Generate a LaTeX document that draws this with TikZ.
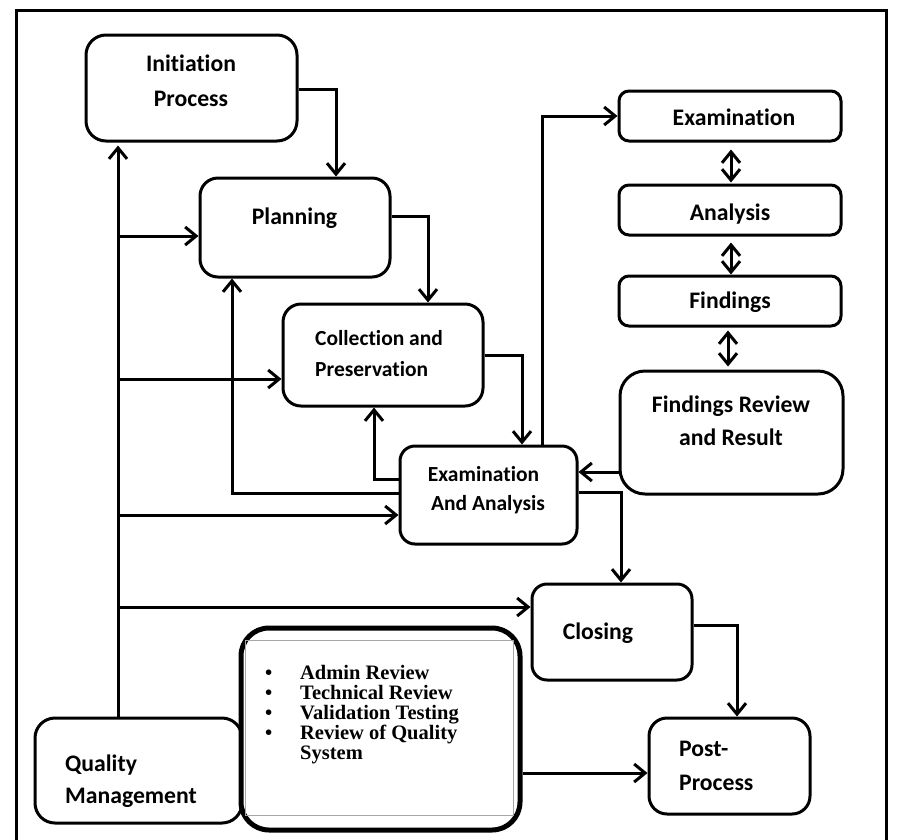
\documentclass[tikz,border=0pt]{standalone}
\usepackage{fontspec}
\setmainfont{Carlito}[Ligatures=NoCommon]
\newfontfamily\tmsfont{Liberation Serif}
\usetikzlibrary{arrows.meta}
\begin{document}
\begin{tikzpicture}[x=1pt,y=-1pt,
  box/.style={draw, line width=3pt, rounded corners=#1, inner sep=0pt, fill=white},
  box/.default=15pt,
  txt/.style={inner sep=0pt, anchor=base, font=\fontsize{23.7}{28}\selectfont\bfseries},
  txts/.style={inner sep=0pt, anchor=base, font=\fontsize{21.5}{26}\selectfont\bfseries},
  arr/.style={line width=3pt, -{Straight Barb[length=11pt,width=18pt]}},
  darr/.style={line width=3pt, {Straight Barb[length=11pt,width=18pt]}-{Straight Barb[length=11pt,width=18pt]}}]
\useasboundingbox (0,0) rectangle (901,839);
% frame
\draw[line width=3pt] (16,850) -- (16,10) -- (886,10) -- (886,850);

% boxes
\node[box=20pt, minimum width=211, minimum height=106] (init) at (191.5,88) {};
\node[box=18pt, minimum width=190, minimum height=99] (plan) at (295,227.5) {};
\node[box=18pt, minimum width=200, minimum height=102] (coll) at (383,355) {};
\node[box=15pt, minimum width=177, minimum height=98] (ea) at (488.5,495) {};
\node[box=10pt, minimum width=222, minimum height=50] (exam) at (730,116) {};
\node[box=10pt, minimum width=222, minimum height=50] (anal) at (730,210) {};
\node[box=10pt, minimum width=222, minimum height=50] (find) at (730,301) {};
\node[box=25pt, minimum width=223, minimum height=123] (frr) at (731.5,432.5) {};
\node[box=15pt, minimum width=160, minimum height=96] (clos) at (612,632) {};
\node[box=18pt, minimum width=161, minimum height=96] (post) at (729.5,766) {};
\node[box=20pt, minimum width=207, minimum height=105] (qm) at (138.5,770.5) {};
\node[box=28pt, line width=5pt, minimum width=279, minimum height=202] (qbox) at (380.5,729) {};
\node[draw=gray!70, line width=0.8pt, inner sep=0pt, minimum width=268, minimum height=175] (inner) at (379,727.5) {};

% texts
\node[txt] (t1a) at (191,71) {Initiation};
\node[txt] (t1b) at (191,106) {Process};
\node[txt] (t2) at (294.5,224) {Planning};
\node[txts, anchor=base west] (t3a) at (315,345) {Collection and};
\node[txts, anchor=base west] (t3b) at (315,376) {Preservation};
\node[txts] (t4a) at (483.5,481) {Examination};
\node[txts] (t4b) at (488,510) {And Analysis};
\node[txt] (t5) at (734,125) {Examination};
\node[txt] (t6) at (730,220) {Analysis};
\node[txt] (t7) at (730,308) {Findings};
\node[txt] (t8a) at (731,412) {Findings Review};
\node[txt] (t8b) at (731,445) {and Result};
\node[txt] (t9) at (598,639) {Closing};
\node[txt, anchor=base west] (t10a) at (679,756) {Post-};
\node[txt, anchor=base west] (t10b) at (679,790) {Process};
\node[txt, anchor=base west] (t11a) at (65,771) {Quality};
\node[txt, anchor=base west] (t11b) at (65,803) {Management};
\node[inner sep=0pt, anchor=north west, font=\tmsfont\bfseries\fontsize{20.5}{19.25}\selectfont] (tlist) at (265,665.35)
  {\begin{tabular}{@{}p{35pt}@{}l@{}}
   \textbullet & Admin Review\\
   \textbullet & Technical Review\\
   \textbullet & Validation Testing\\
   \textbullet & Review of Quality\\
               & System
   \end{tabular}};

% connectors
\draw[arr] (init.east |- 0,89) -| (plan.north -| 336,0);
\draw[arr] (plan.east |- 0,216) -| (coll.north -| 428,0);
\draw[arr] (coll.east |- 0,355) -| (ea.north -| 522,0);
\draw[arr] (ea.north -| 542,0) |- (exam.west |- 0,116);
\draw[darr, shorten <=7pt, shorten >=1pt] (exam.south -| 731,0) -- (anal.north -| 731,0);
\draw[darr, shorten <=6pt] (anal.south -| 731,0) -- (find.north -| 731,0);
\draw[darr, shorten <=3pt, shorten >=3pt] (find.south -| 728,0) -- (frr.north -| 728,0);
\draw[arr] (frr.west |- 0,472) -- (ea.east |- 0,472);
\draw[arr] (ea.east |- 0,492) -| (clos.north -| 621,0);
\draw[arr] (clos.east |- 0,625) -| (post.north -| 737,0);
\draw[arr] (qbox.east |- 0,773) -- (post.west |- 0,773);
\draw[arr, shorten >=3pt] (qm.north -| 118,0) -- (init.south -| 118,0);
\coordinate (b1) at (118,236);
\coordinate (b2) at (118,379);
\coordinate (b3) at (118,515);
\coordinate (b4) at (118,607);
\draw[arr] (b1) -- (plan.west |- b1);
\draw[arr] (b2) -- (coll.west |- b2);
\draw[arr] (b3) -- (ea.west |- b3);
\draw[arr] (b4) -- (clos.west |- b4);
\draw[arr] (ea.west |- 0,493) -| (plan.south -| 232,0);
\draw[arr] (ea.west |- 0,479) -| (coll.south -| 374,0);
\end{tikzpicture}
\end{document}
